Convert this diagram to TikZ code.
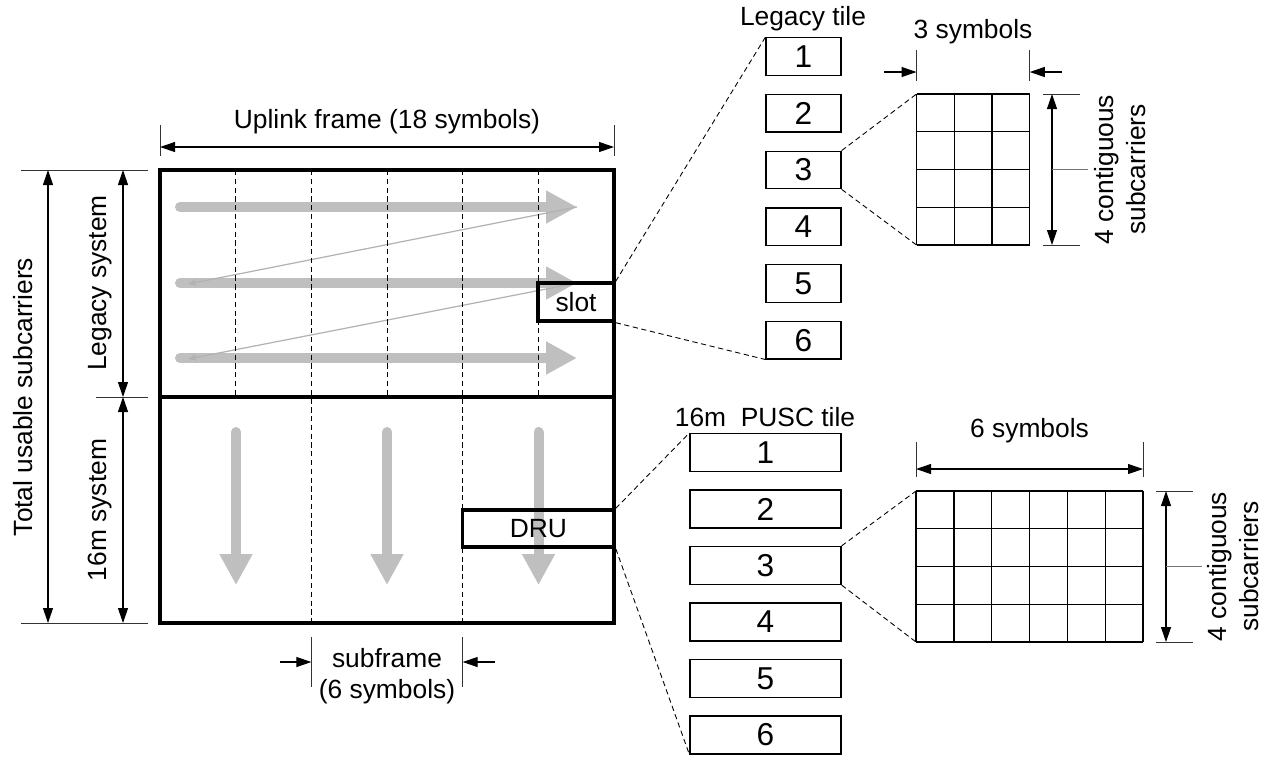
\documentclass[tikz,border=0pt]{standalone}
\usepackage{fontspec}
\setmainfont{Liberation Sans}
\usetikzlibrary{positioning, arrows.meta}

\begin{document}
\begin{tikzpicture}[
        font=\fontsize{15}{18}\selectfont,
        frameline/.style={line width=2.1pt},
        symline/.style={dashed, line width=0.5pt, dash pattern=on 3pt off 2pt},
        zoomline/.style={dashed, line width=0.5pt, dash pattern=on 3pt off 2pt},
        dimline/.style={line width=0.6pt, {Triangle[length=0.3cm,width=0.2cm]}-{Triangle[length=0.3cm,width=0.2cm]}},
        dimhalf/.style={line width=0.6pt, -{Triangle[length=0.3cm,width=0.2cm]}},
        dimtick/.style={line width=0.5pt, black!80},
        leader/.style={line width=0.8pt, black!55},
        flowarrow/.style={draw=black!25, line width=0.2cm, line cap=round, -{Triangle[length=0.62cm,width=0.62cm]}},
        backline/.style={draw=black!30, line width=0.7pt, -{Stealth[length=0.18cm,width=0.14cm]}},
        unitbox/.style={draw, line width=1.9pt, inner sep=0pt},
        tilebox/.style={draw, line width=0.7pt, minimum width=1.5cm, minimum height=0.75cm, inner sep=0pt, font=\fontsize{18}{20}\selectfont},
        bigtile/.style={tilebox, minimum width=3.02cm, minimum height=0.76cm},
        cellgrid/.style={line width=0.8pt}
    ]
    \useasboundingbox (0,0) rectangle (25.44,-15.14);

    % Gray flow arrows (legacy: row by row)
    \coordinate (h1s) at (3.6,-4.14);  \coordinate (h1e) at (11.54,-4.14);
    \coordinate (h2s) at (3.6,-5.66);  \coordinate (h2e) at (11.54,-5.66);
    \coordinate (h3s) at (3.6,-7.16);  \coordinate (h3e) at (11.54,-7.16);
    \coordinate (b2) at (3.76,-5.68);
    \coordinate (b3) at (3.76,-7.18);
    \draw[flowarrow] (h1s) -- (h1e);
    \draw[flowarrow] (h2s) -- (h2e);
    \draw[flowarrow] (h3s) -- (h3e);
    \draw[backline] (h1e) -- (b2);
    \draw[backline] (h2e) -- (b3);

    % Gray flow arrows (16m: column by column)
    \coordinate (v1s) at (4.72,-8.64);  \coordinate (v1e) at (4.72,-11.7);
    \coordinate (v2s) at (7.74,-8.64);  \coordinate (v2e) at (7.74,-11.7);
    \coordinate (v3s) at (10.77,-8.64); \coordinate (v3e) at (10.77,-11.7);
    \draw[flowarrow] (v1s) -- (v1e);
    \draw[flowarrow] (v2s) -- (v2e);
    \draw[flowarrow] (v3s) -- (v3e);

    % Symbol boundaries
    \draw[symline] (4.714,-3.4) -- (4.714,-7.94);
    \draw[symline] (6.227,-3.4) -- (6.227,-12.46);
    \draw[symline] (7.74,-3.4) -- (7.74,-7.94);
    \draw[symline] (9.253,-3.4) -- (9.253,-12.46);
    \draw[symline] (10.767,-3.4) -- (10.767,-7.94);

    % Uplink frame
    \draw[frameline] (3.2,-3.4) rectangle (12.28,-12.46);
    \draw[frameline] (3.2,-7.94) -- (12.28,-7.94);

    % Slot and DRU
    \node[unitbox, minimum width=1.52cm, minimum height=0.76cm] (slot) at (11.52,-6.04) {slot};
    \node[unitbox, minimum width=3.03cm, minimum height=0.74cm] (dru) at (10.767,-10.57) {DRU};

    % Frame dimensions
    \draw[dimtick] (3.2,-2.5) -- (3.2,-3.12);
    \draw[dimtick] (12.28,-2.5) -- (12.28,-3.12);
    \draw[dimline] (3.2,-2.94) -- (12.28,-2.94);
    \node (uplink) at (7.74,-2.44) {Uplink frame (18 symbols)};

    \draw[dimtick] (0.42,-3.4) -- (2.96,-3.4);
    \draw[dimtick] (0.42,-12.46) -- (2.96,-12.46);
    \draw[dimtick] (1.92,-7.94) -- (2.96,-7.94);
    \draw[dimline] (0.96,-3.4) -- (0.96,-12.46);
    \draw[dimline] (2.46,-3.4) -- (2.46,-7.94);
    \draw[dimline] (2.46,-7.94) -- (2.46,-12.46);
    \node[rotate=90] (total) at (0.46,-7.94) {Total usable subcarriers};
    \node[rotate=90] (legsys) at (2.0,-5.66) {Legacy system};
    \node[rotate=90] (newsys) at (2.0,-10.2) {16m system};

    \draw[dimtick] (6.227,-12.74) -- (6.227,-13.74);
    \draw[dimtick] (9.253,-12.74) -- (9.253,-13.74);
    \draw[dimhalf] (5.6,-13.24) -- (6.227,-13.24);
    \draw[dimhalf] (9.9,-13.24) -- (9.253,-13.24);
    \node[align=center] (subframe) at (7.74,-13.52) {subframe\\(6 symbols)};

    % Legacy tiles
    \node (ltlabel) at (16.06,-0.38) {Legacy tile};
    \node[tilebox] (l1) at (16.07,-1.13) {1};
    \node[tilebox, below=0.36cm of l1] (l2) {2};
    \node[tilebox, below=0.36cm of l2] (l3) {3};
    \node[tilebox, below=0.36cm of l3] (l4) {4};
    \node[tilebox, below=0.36cm of l4] (l5) {5};
    \node[tilebox, below=0.36cm of l5] (l6) {6};
    \draw[zoomline] (slot.north east) -- (l1.north west);
    \draw[zoomline] (slot.south east) -- (l6.south west);

    % Legacy tile: 3 symbols x 4 subcarriers
    \coordinate (lgtl) at (18.33,-1.88);
    \coordinate (lgbl) at (18.33,-4.9);
    \draw[cellgrid, shift={(18.33,-4.9)}, xscale=0.755, yscale=0.755] (0,0) grid (3,4);
    \draw[zoomline] (l3.north east) -- (lgtl);
    \draw[zoomline] (l3.south east) -- (lgbl);

    \draw[dimtick] (18.33,-1.0) -- (18.33,-1.62);
    \draw[dimtick] (20.595,-1.0) -- (20.595,-1.62);
    \draw[dimhalf] (17.68,-1.44) -- (18.33,-1.44);
    \draw[dimhalf] (21.24,-1.44) -- (20.595,-1.44);
    \node (lsym) at (19.46,-0.64) {3 symbols};

    \draw[dimtick] (20.86,-1.88) -- (21.6,-1.88);
    \draw[dimtick] (20.86,-4.9) -- (21.6,-4.9);
    \draw[dimline] (21.04,-1.88) -- (21.04,-4.9);
    \draw[leader] (21.04,-3.39) -- (21.76,-3.39);
    \node[rotate=90, align=center] (lsub) at (22.4,-3.39) {4 contiguous\\subcarriers};

    % 16m PUSC tiles
    \node (mtlabel) at (15.3,-8.34) {16m\ \ PUSC tile};
    \node[bigtile] (m1) at (15.31,-9.05) {1};
    \node[bigtile, below=0.345cm of m1] (m2) {2};
    \node[bigtile, below=0.345cm of m2] (m3) {3};
    \node[bigtile, below=0.345cm of m3] (m4) {4};
    \node[bigtile, below=0.345cm of m4] (m5) {5};
    \node[bigtile, below=0.345cm of m5] (m6) {6};
    \draw[zoomline] (dru.north east) -- (m1.north west);
    \draw[zoomline] (dru.south east) -- (m6.south west);

    % 16m tile: 6 symbols x 4 subcarriers
    \coordinate (mgtl) at (18.32,-9.82);
    \coordinate (mgbl) at (18.32,-12.84);
    \draw[cellgrid, shift={(18.32,-12.84)}, xscale=0.757, yscale=0.755] (0,0) grid (6,4);
    \draw[zoomline] (m3.north east) -- (mgtl);
    \draw[zoomline] (m3.south east) -- (mgbl);

    \draw[dimtick] (18.32,-8.84) -- (18.32,-9.54);
    \draw[dimtick] (22.86,-8.84) -- (22.86,-9.54);
    \draw[dimline] (18.32,-9.38) -- (22.86,-9.38);
    \node (msym) at (20.59,-8.62) {6 symbols};

    \draw[dimtick] (23.12,-9.82) -- (23.86,-9.82);
    \draw[dimtick] (23.12,-12.84) -- (23.86,-12.84);
    \draw[dimline] (23.32,-9.82) -- (23.32,-12.84);
    \draw[leader] (23.32,-11.33) -- (24.04,-11.33);
    \node[rotate=90, align=center] (msub) at (24.66,-11.33) {4 contiguous\\subcarriers};

    \end{tikzpicture}
\end{document}
